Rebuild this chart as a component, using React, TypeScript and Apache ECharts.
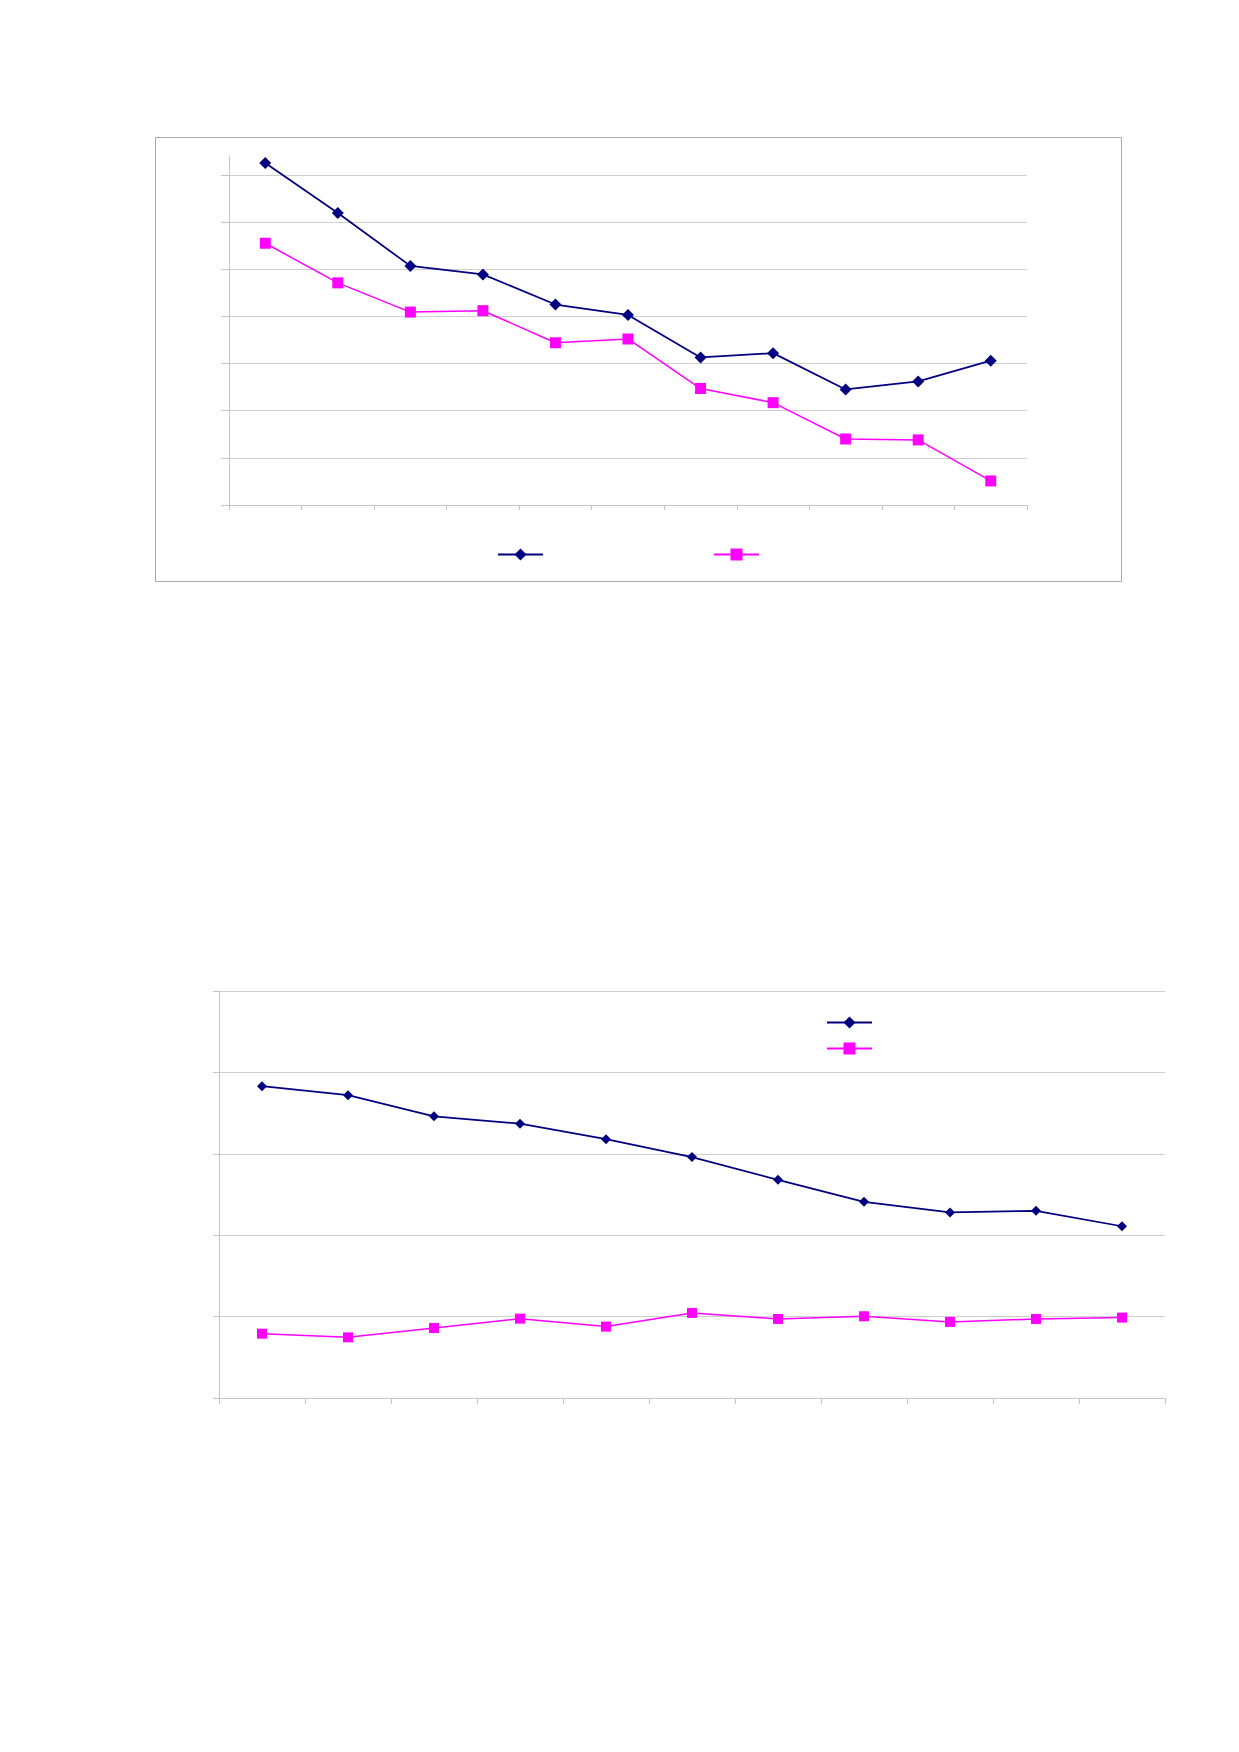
import React, { useEffect, useRef } from "react";
import * as echarts from "echarts";

const categories = ["1", "2", "3", "4", "5", "6", "7", "8", "9", "10", "11"];
const topSeriesA = [7.25, 6.19, 5.07, 4.89, 4.25, 4.03, 3.13, 3.22, 2.45, 2.62, 3.06];
const topSeriesB = [5.55, 4.71, 4.09, 4.12, 3.44, 3.52, 2.47, 2.17, 1.4, 1.38, 0.51];
const bottomSeriesA = [3.83, 3.72, 3.46, 3.37, 3.18, 2.96, 2.68, 2.41, 2.28, 2.3, 2.11];
const bottomSeriesB = [0.79, 0.745, 0.86, 0.975, 0.877, 1.045, 0.971, 1.004, 0.935, 0.971, 0.988];
const topTicks = [0, 1, 2, 3, 4, 5, 6, 7];

const NAVY = "#000080";
const MAGENTA = "#ff00ff";
const GRID = "#cfcfcf";
const AXIS = "#c4c4c4";

export default function App() {
  const ref = useRef<HTMLDivElement>(null);
  useEffect(() => {
    if (!ref.current) return;
    const chart = echarts.init(ref.current, null, { renderer: "svg" });
    const xAxisBase = (gridIndex: number, tickLen: number) => ({
      type: "category",
      gridIndex,
      data: categories,
      boundaryGap: true,
      axisLine: { show: true, lineStyle: { color: AXIS, width: 1 } },
      axisTick: { show: true, interval: 0, length: tickLen, lineStyle: { color: AXIS } },
      axisLabel: { show: false },
      splitLine: { show: false },
    });
    const legendItem = (name: string, left: number, top: number) => ({
      data: [name],
      left,
      top,
      padding: 0,
      itemWidth: 45,
      itemHeight: 15,
      formatter: () => "",
      selectedMode: false,
      textStyle: { fontSize: 1 },
    });
    chart.setOption({
      animation: false,
      backgroundColor: "#ffffff",
      grid: [
        { left: 229, top: 156, width: 798, height: 349, containLabel: false },
        { left: 219, top: 991, width: 946, height: 407, containLabel: false },
      ],
      xAxis: [xAxisBase(0, 5), xAxisBase(1, 6)],
      yAxis: [
        {
          type: "value",
          gridIndex: 0,
          min: 0,
          max: 7.4,
          interval: 1,
          axisLine: { show: true, lineStyle: { color: AXIS } },
          axisTick: { show: true, length: 8, customValues: topTicks, lineStyle: { color: AXIS } },
          axisLabel: { show: false },
          splitLine: { show: true, showMaxLine: true, lineStyle: { color: GRID, width: 1 } },
        },
        {
          type: "value",
          gridIndex: 1,
          min: 0,
          max: 5,
          interval: 1,
          axisLine: { show: true, lineStyle: { color: AXIS } },
          axisTick: { show: true, length: 6, lineStyle: { color: AXIS } },
          axisLabel: { show: false },
          splitLine: { show: true, lineStyle: { color: GRID, width: 1 } },
        },
      ],
      legend: [
        legendItem("A1", 497, 547),
        legendItem("B1", 713, 547),
        legendItem("A2", 826, 1015),
        legendItem("B2", 826, 1041),
      ],
      graphic: [
        {
          type: "rect",
          shape: { x: 155.5, y: 137.5, width: 966, height: 444 },
          style: { fill: "none", stroke: "#a8a8a8", lineWidth: 1 },
          silent: true,
        },
      ],
      series: [
        {
          name: "A1",
          type: "line",
          xAxisIndex: 0,
          yAxisIndex: 0,
          data: topSeriesA,
          symbol: "diamond",
          symbolSize: 12,
          lineStyle: { color: NAVY, width: 1.75 },
          itemStyle: { color: NAVY },
        },
        {
          name: "B1",
          type: "line",
          xAxisIndex: 0,
          yAxisIndex: 0,
          data: topSeriesB,
          symbol: "rect",
          symbolSize: 11,
          lineStyle: { color: MAGENTA, width: 1.5 },
          itemStyle: { color: MAGENTA },
        },
        {
          name: "A2",
          type: "line",
          xAxisIndex: 1,
          yAxisIndex: 1,
          data: bottomSeriesA,
          symbol: "diamond",
          symbolSize: 10,
          lineStyle: { color: NAVY, width: 1.75 },
          itemStyle: { color: NAVY },
        },
        {
          name: "B2",
          type: "line",
          xAxisIndex: 1,
          yAxisIndex: 1,
          data: bottomSeriesB,
          symbol: "rect",
          symbolSize: 10,
          lineStyle: { color: MAGENTA, width: 1.5 },
          itemStyle: { color: MAGENTA },
        },
      ],
    });
    return () => chart.dispose();
  }, []);
  return (
    <div
      ref={ref}
      style={{ position: "absolute", left: 0, top: 0, width: 1239, height: 1752, background: "#fff" }}
    />
  );
}
